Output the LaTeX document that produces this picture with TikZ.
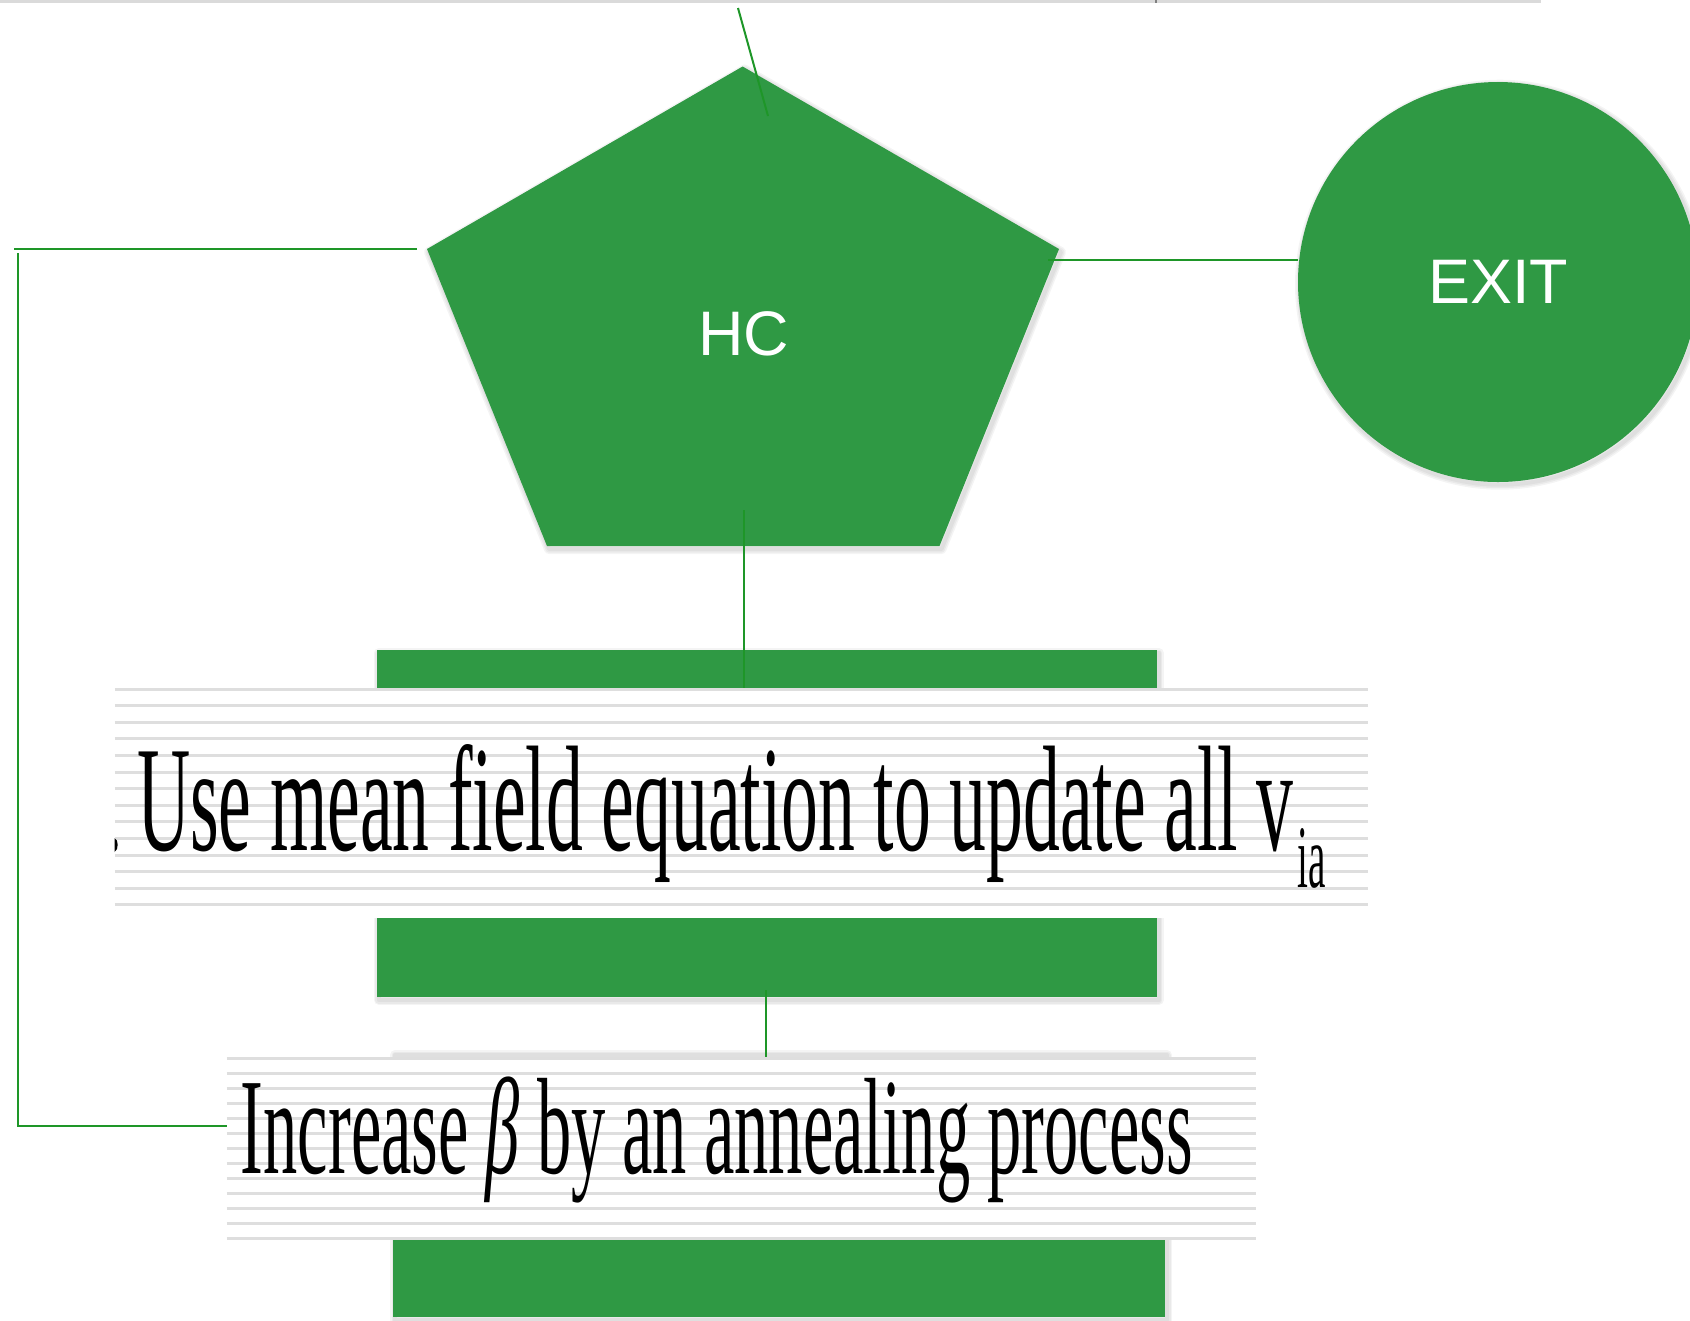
\documentclass[tikz,border=0pt]{standalone}
\usepackage{fontspec}
\usepackage{graphicx}
\newfontfamily\tfont{Liberation Serif}
\newfontfamily\lfont{Liberation Sans}
\definecolor{feltgreen}{RGB}{47,153,68}
\definecolor{linkgreen}{RGB}{30,150,40}
\definecolor{stripegray}{RGB}{222,222,222}
\definecolor{bargray}{RGB}{218,218,218}
\tikzset{
  link/.style={draw=linkgreen, line width=0.2mm},
  felt/.style={fill=feltgreen},
  shapelabel/.style={text=white, font=\lfont\fontsize{17.9pt}{20pt}\selectfont, inner sep=0pt},
  stripe/.style={draw=stripegray, line width=0.3mm},
  bigtext/.style={inner sep=0pt, anchor=base west, font=\tfont},
  halo/.style={black, opacity=0.045, line join=round},
}
\newcommand\softshade[1]{%
  \foreach \w in {10,7,4}{\draw[halo, line width=\w*0.1mm, shift={(2,3)}] #1;}}
\begin{document}
\begin{tikzpicture}[x=0.1mm,y=-0.1mm]
\useasboundingbox (0,0) rectangle (1690,1320);
\clip (0,0) rectangle (1690,1320);

% top grey bar
\fill[bargray] (0,0) rectangle (1541,3);
\fill[gray] (1154.5,0) rectangle (1156.5,2.5);

% shadows
\softshade{(742.6,66.5) -- (1059,249) -- (939.5,546) -- (547,546) -- (427,249) -- cycle}
\softshade{(1498,281.7) circle (200)}
\softshade{(376.7,650) rectangle (1156.7,997)}
\softshade{(393,1052) rectangle (1165,1317)}

% green shapes
\fill[felt] (376.7,650) rectangle (1156.7,997);
\fill[felt] (393,1062) rectangle (1165,1317);
\fill[felt] (742.6,66.5) -- (1059,249) -- (939.5,546) -- (547,546) -- (427,249) -- cycle;
\node[circle, felt, minimum size=40mm, inner sep=0pt, shapelabel] (exit) at (1498,282) {EXIT};
\node[shapelabel] (hc) at (744,333.5) {HC};

% connector end points
\coordinate (topin) at (738,8);
\coordinate (topend) at (768,116);
\coordinate (pl) at (417,249.3);
\coordinate (lc1) at (14.3,249.3);
\coordinate (lv1) at (18.3,253.3);
\coordinate (lv2) at (18.3,1125.7);
\coordinate (t2in) at (227,1125.7);
\coordinate (pr) at (1048,260);
\coordinate (exitin) at (1298,260);
\coordinate (pb) at (744.3,510);
\coordinate (b1top) at (744.3,688);
\coordinate (b1bot) at (765.6,990);
\coordinate (b2top) at (765.6,1058);

% connectors
\draw[link] (topin) -- (topend);
\draw[link] (pl) -- (lc1);
\draw[link] (lv1) -- (lv2) -- (t2in);
\draw[link] (pr) -- (exitin);
\draw[link] (pb) -- (b1top);
\draw[link] (b1bot) -- (b2top);

% text strip 1
\fill[white] (114.5,688) rectangle (1367.7,918);
\foreach \k in {0,...,13}{\draw[stripe] (114.5,{689+16.6*\k}) -- (1367.7,{689+16.6*\k});}
\fill[black] (114.5,838) .. controls (118.5,839) and (119,850) .. (114.5,852) -- cycle;
\node[bigtext] (t1) at (136.4,850.7) {\resizebox{115.6mm}{10.6mm}{\tfont Use mean field equation to update all v}};
\node[bigtext] (t1sub) at (1296.7,887) {\resizebox{2.83mm}{5.9mm}{\tfont ia}};

% text strip 2
\fill[white] (226.8,1058) rectangle (1255.7,1240);
\foreach \k in {0,...,12}{\draw[stripe] (226.8,{1058.3+15*\k}) -- (1255.7,{1058.3+15*\k});}
\node[bigtext] (t2) at (240.2,1173.3) {\resizebox{95.15mm}{9.66mm}{\tfont Increase {\itshape β} by an annealing process}};
\end{tikzpicture}
\end{document}
